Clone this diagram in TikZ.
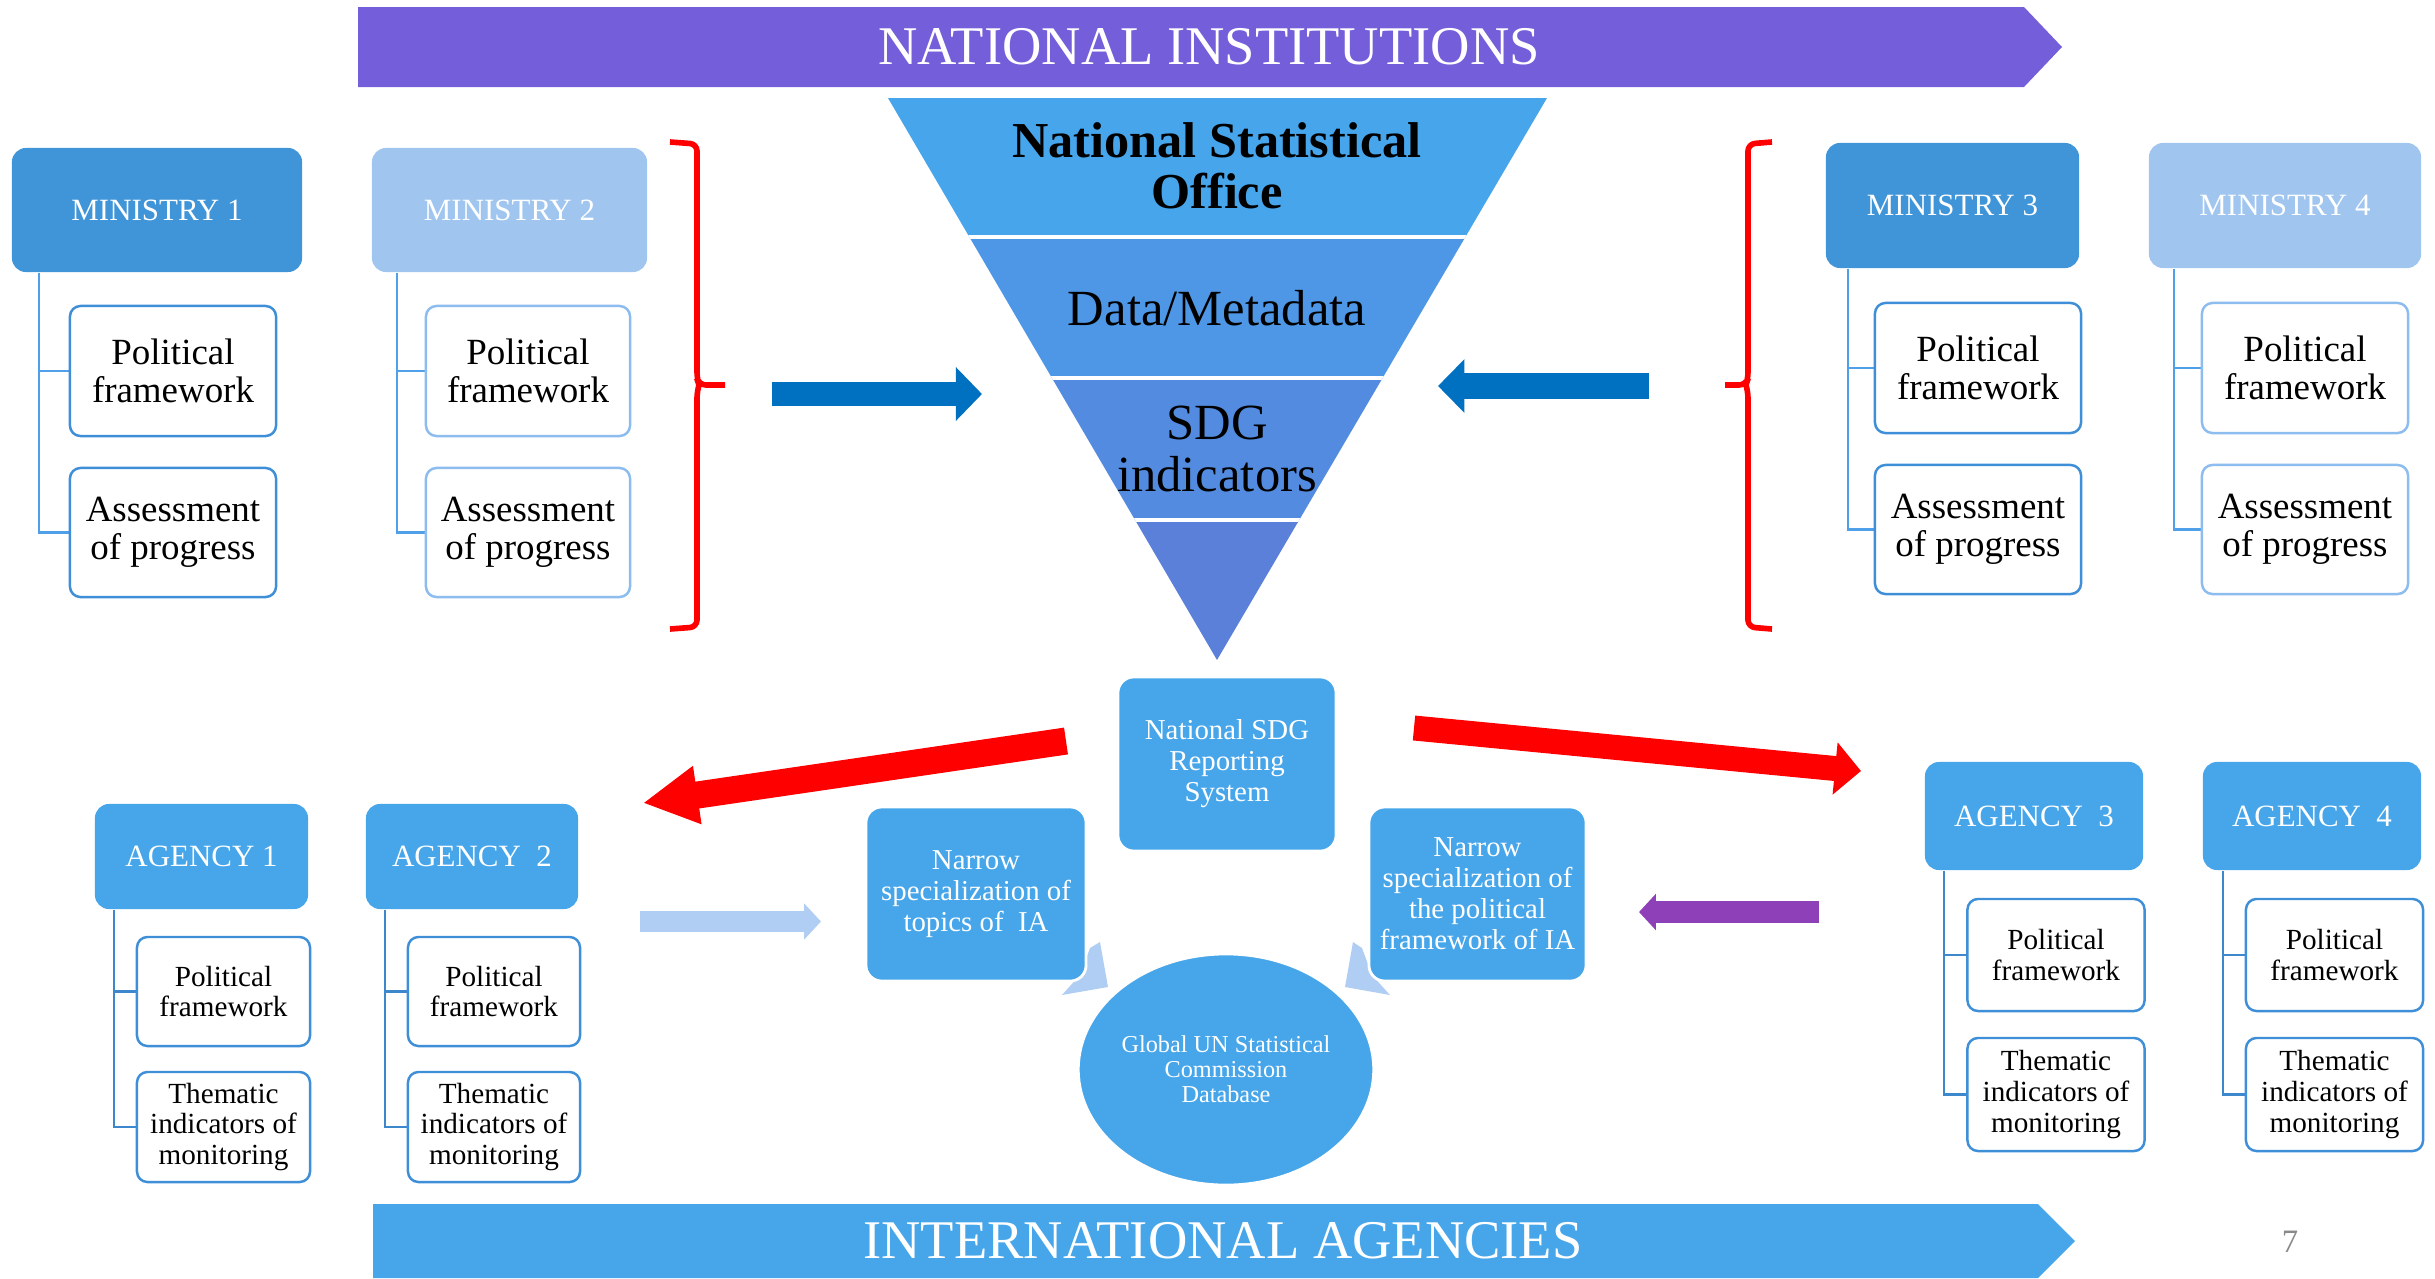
\documentclass[tikz,border=0pt]{standalone}
\usepackage{fontspec}
\setmainfont{Liberation Serif}
\usepackage{tikz}
\usetikzlibrary{arrows.meta, shapes.geometric}

\definecolor{instpurple}{RGB}{117,94,218}
\definecolor{agblue}{RGB}{71,166,234}
\definecolor{mindark}{RGB}{64,148,216}
\definecolor{minlight}{RGB}{160,198,240}
\definecolor{leafdark}{RGB}{62,143,216}
\definecolor{leaflight}{RGB}{141,188,238}
\definecolor{treeblue}{RGB}{79,160,232}
\definecolor{agtree}{RGB}{61,136,204}
\definecolor{arrowblue}{RGB}{0,112,192}
\definecolor{paleblue}{RGB}{176,206,243}
\definecolor{arrowpurple}{RGB}{142,64,184}
\definecolor{arrowred}{RGB}{255,0,0}
\definecolor{pagegray}{RGB}{137,137,137}
\definecolor{funA}{RGB}{70,165,235}
\definecolor{funB}{RGB}{78,151,230}
\definecolor{funC}{RGB}{83,139,224}
\definecolor{funD}{RGB}{90,128,218}

\tikzset{
	banner/.style = {text=white, inner sep=0pt, font=\fontsize{15.5}{16}\selectfont},
	funtext/.style = {align=center, inner sep=0pt, font=\fontsize{14.4}{14.6}\selectfont},
	head/.style = {rounded corners=4pt, text=white, inner sep=0pt, font=\fontsize{8.8}{9.5}\selectfont},
	minleaf/.style = {draw=#1, line width=0.7pt, rounded corners=3pt, fill=white, align=center, inner sep=0pt, font=\fontsize{10.5}{10.8}\selectfont},
	agleaf/.style = {draw=leafdark, line width=0.7pt, rounded corners=3pt, fill=white, align=center, inner sep=0pt, font=\fontsize{8.3}{8.8}\selectfont},
	tree/.style = {draw=#1, line width=0.6pt},
	bluebox/.style = {fill=agblue, draw=white, line width=0.8pt, rounded corners=4.5pt, text=white, align=center, inner sep=0pt, font=\fontsize{8.2}{8.8}\selectfont},
	bracket/.style = {draw=arrowred, line width=1.6pt, rounded corners=2pt},
	fat/.style args = {#1/#2/#3}{line width=#1, -{Triangle[length=#2, width=#3]}},
}

\begin{document}
\begin{tikzpicture}[x=0.01cm, y=-0.01cm]
	\useasboundingbox (0,0) rectangle (2435,1278);

	% banners
	\fill[instpurple] (358,7) -- (2024,7) -- (2062,47) -- (2024,87) -- (358,87) -- cycle;
	\node[banner] (natinst) at (1209,47) {NATIONAL INSTITUTIONS};
	\fill[agblue] (373,1204) -- (2038,1204) -- (2075,1241) -- (2038,1278) -- (373,1278) -- cycle;
	\node[banner] (intag) at (1223,1241) {INTERNATIONAL AGENCIES};
	\node[text=pagegray, font=\fontsize{9.3}{10}\selectfont] (pagenum) at (2290,1242) {7};

	% funnel
	\begin{scope}
		\clip (888,98) -- (1547,98) -- (1217,660) -- cycle;
		\fill[funA] (880,90) rectangle (1560,237);
		\fill[funB] (880,237) rectangle (1560,378);
		\fill[funC] (880,378) rectangle (1560,520);
		\fill[funD] (880,520) rectangle (1560,670);
		\draw[white, line width=1.2pt] (880,237) -- (1560,237) (880,378) -- (1560,378) (880,520) -- (1560,520);
	\end{scope}
	\node[funtext, font=\bfseries\fontsize{14.3}{14.6}\selectfont] (nso) at (1217,166) {National Statistical\\Office};
	\node[funtext] (meta) at (1217,308) {Data/Metadata};
	\node[funtext] (sdgind) at (1217,449) {SDG\\indicators};

	% ministries
	\node[head, fill=mindark, minimum width=2.90cm, minimum height=1.24cm] (min1) at (157,210) {MINISTRY 1};
	\node[head, fill=minlight, minimum width=2.75cm, minimum height=1.24cm] (min2) at (509.5,210) {MINISTRY 2};
	\node[head, fill=mindark, minimum width=2.53cm, minimum height=1.25cm] (min3) at (1952.5,205.5) {MINISTRY 3};
	\node[head, fill=minlight, minimum width=2.72cm, minimum height=1.25cm] (min4) at (2285,205.5) {MINISTRY 4};

	\draw[tree=treeblue] ([xshift=0.28cm]min1.south west) |- (70,371) ([xshift=0.28cm]min1.south west) |- (70,532.5);
	\draw[tree=treeblue] ([xshift=0.26cm]min2.south west) |- (426,371) ([xshift=0.26cm]min2.south west) |- (426,532.5);
	\draw[tree=treeblue] ([xshift=0.23cm]min3.south west) |- (1875,368) ([xshift=0.23cm]min3.south west) |- (1875,529.5);
	\draw[tree=treeblue] ([xshift=0.26cm]min4.south west) |- (2202,368) ([xshift=0.26cm]min4.south west) |- (2202,529.5);

	\node[minleaf=leafdark, minimum width=2.06cm, minimum height=1.30cm] (pol1) at (173,371) {Political\\framework};
	\node[minleaf=leafdark, minimum width=2.06cm, minimum height=1.29cm] (ass1) at (173,532.5) {Assessment\\of progress};
	\node[minleaf=leaflight, minimum width=2.04cm, minimum height=1.30cm] (pol2) at (528,371) {Political\\framework};
	\node[minleaf=leaflight, minimum width=2.04cm, minimum height=1.29cm] (ass2) at (528,532.5) {Assessment\\of progress};
	\node[minleaf=leafdark, minimum width=2.06cm, minimum height=1.30cm] (pol3) at (1978,368) {Political\\framework};
	\node[minleaf=leafdark, minimum width=2.06cm, minimum height=1.29cm] (ass3) at (1978,529.5) {Assessment\\of progress};
	\node[minleaf=leaflight, minimum width=2.06cm, minimum height=1.30cm] (pol4) at (2305,368) {Political\\framework};
	\node[minleaf=leaflight, minimum width=2.06cm, minimum height=1.29cm] (ass4) at (2305,529.5) {Assessment\\of progress};

	% brackets
	\draw[bracket] (670,142) -- (697,144) -- (697,379) -- (699,385) -- (725,385) (699,385) -- (697,391) -- (697,627) -- (670,629);
	\draw[bracket] (1772,142) -- (1748,144) -- (1748,379) -- (1746,385) -- (1725,385) (1746,385) -- (1748,391) -- (1748,627) -- (1772,629);

	% arrows into the funnel
	\coordinate (inL) at (772,394);
	\coordinate (inLtip) at (982,394);
	\coordinate (inR) at (1649,386);
	\coordinate (inRtip) at (1438,386);
	\draw[arrowblue, fat=7.1pt/7.4pt/14.8pt] (inL) -- (inLtip);
	\draw[arrowblue, fat=7.4pt/7.5pt/14.8pt] (inR) -- (inRtip);

	% reporting system
	\coordinate (redL) at (1066,741);
	\coordinate (redLtip) at (643,803);
	\coordinate (redR) at (1414,728);
	\coordinate (redRtip) at (1861,771);
	\draw[arrowred, fat=7.7pt/15.6pt/15.6pt] (redL) -- (redLtip);
	\draw[arrowred, fat=7.1pt/7.4pt/14.5pt] (redR) -- (redRtip);

	\fill[paleblue] (1100,942) -- (1108,987) -- (1062,995) -- (1080,975) -- (1090,948) -- cycle;
	\fill[paleblue] (1353,942) -- (1345,987) -- (1390,995) -- (1372,975) -- (1362,948) -- cycle;

	\node[bluebox, minimum width=2.18cm, minimum height=1.74cm] (sdg) at (1227,764) {National SDG\\Reporting\\System};
	\node[bluebox, minimum width=2.20cm, minimum height=1.74cm] (topics) at (976,894) {Narrow\\specialization of\\topics of~ IA};
	\node[bluebox, minimum width=2.17cm, minimum height=1.74cm] (polia) at (1477.5,894) {Narrow\\specialization of\\the political\\framework of IA};
	\node[ellipse, fill=agblue, draw=white, line width=0.8pt, minimum width=2.94cm, minimum height=2.31cm, inner sep=0pt, text=white, align=center, font=\fontsize{6.9}{7.1}\selectfont] (undb) at (1226,1069.5) {Global UN Statistical\\Commission\\Database};

	\coordinate (fromag) at (640,921.5);
	\coordinate (fromagtip) at (821,921.5);
	\coordinate (toia) at (1819,912);
	\coordinate (toiatip) at (1639,912);
	\draw[paleblue, fat=6pt/4.8pt/10pt] (fromag) -- (fromagtip);
	\draw[arrowpurple, fat=6.3pt/4.8pt/10.1pt] (toia) -- (toiatip);

	% agencies
	\node[head, fill=agblue, minimum width=2.13cm, minimum height=1.05cm] (ag1) at (201.5,856.5) {AGENCY 1};
	\node[head, fill=agblue, minimum width=2.12cm, minimum height=1.05cm] (ag2) at (472,856.5) {AGENCY~ 2};
	\node[head, fill=agblue, minimum width=2.18cm, minimum height=1.08cm] (ag3) at (2034,816) {AGENCY~ 3};
	\node[head, fill=agblue, minimum width=2.18cm, minimum height=1.08cm] (ag4) at (2312,816) {AGENCY~ 4};

	\draw[tree=agtree] ([xshift=0.20cm]ag1.south west) |- (137,991.5) ([xshift=0.20cm]ag1.south west) |- (137,1127);
	\draw[tree=agtree] ([xshift=0.20cm]ag2.south west) |- (408,991.5) ([xshift=0.20cm]ag2.south west) |- (408,1127);
	\draw[tree=agtree] ([xshift=0.20cm]ag3.south west) |- (1967.5,955) ([xshift=0.20cm]ag3.south west) |- (1967.5,1094.5);
	\draw[tree=agtree] ([xshift=0.205cm]ag4.south west) |- (2246,955) ([xshift=0.205cm]ag4.south west) |- (2246,1094.5);

	\node[agleaf, minimum width=1.73cm, minimum height=1.09cm] (apol1) at (223.5,991.5) {Political\\framework};
	\node[agleaf, minimum width=1.73cm, minimum height=1.10cm] (them1) at (223.5,1127) {Thematic\\indicators of\\monitoring};
	\node[agleaf, minimum width=1.72cm, minimum height=1.09cm] (apol2) at (494,991.5) {Political\\framework};
	\node[agleaf, minimum width=1.72cm, minimum height=1.10cm] (them2) at (494,1127) {Thematic\\indicators of\\monitoring};
	\node[agleaf, minimum width=1.77cm, minimum height=1.12cm] (apol3) at (2056,955) {Political\\framework};
	\node[agleaf, minimum width=1.77cm, minimum height=1.13cm] (them3) at (2056,1094.5) {Thematic\\indicators of\\monitoring};
	\node[agleaf, minimum width=1.77cm, minimum height=1.12cm] (apol4) at (2334.5,955) {Political\\framework};
	\node[agleaf, minimum width=1.77cm, minimum height=1.13cm] (them4) at (2334.5,1094.5) {Thematic\\indicators of\\monitoring};
\end{tikzpicture}
\end{document}
